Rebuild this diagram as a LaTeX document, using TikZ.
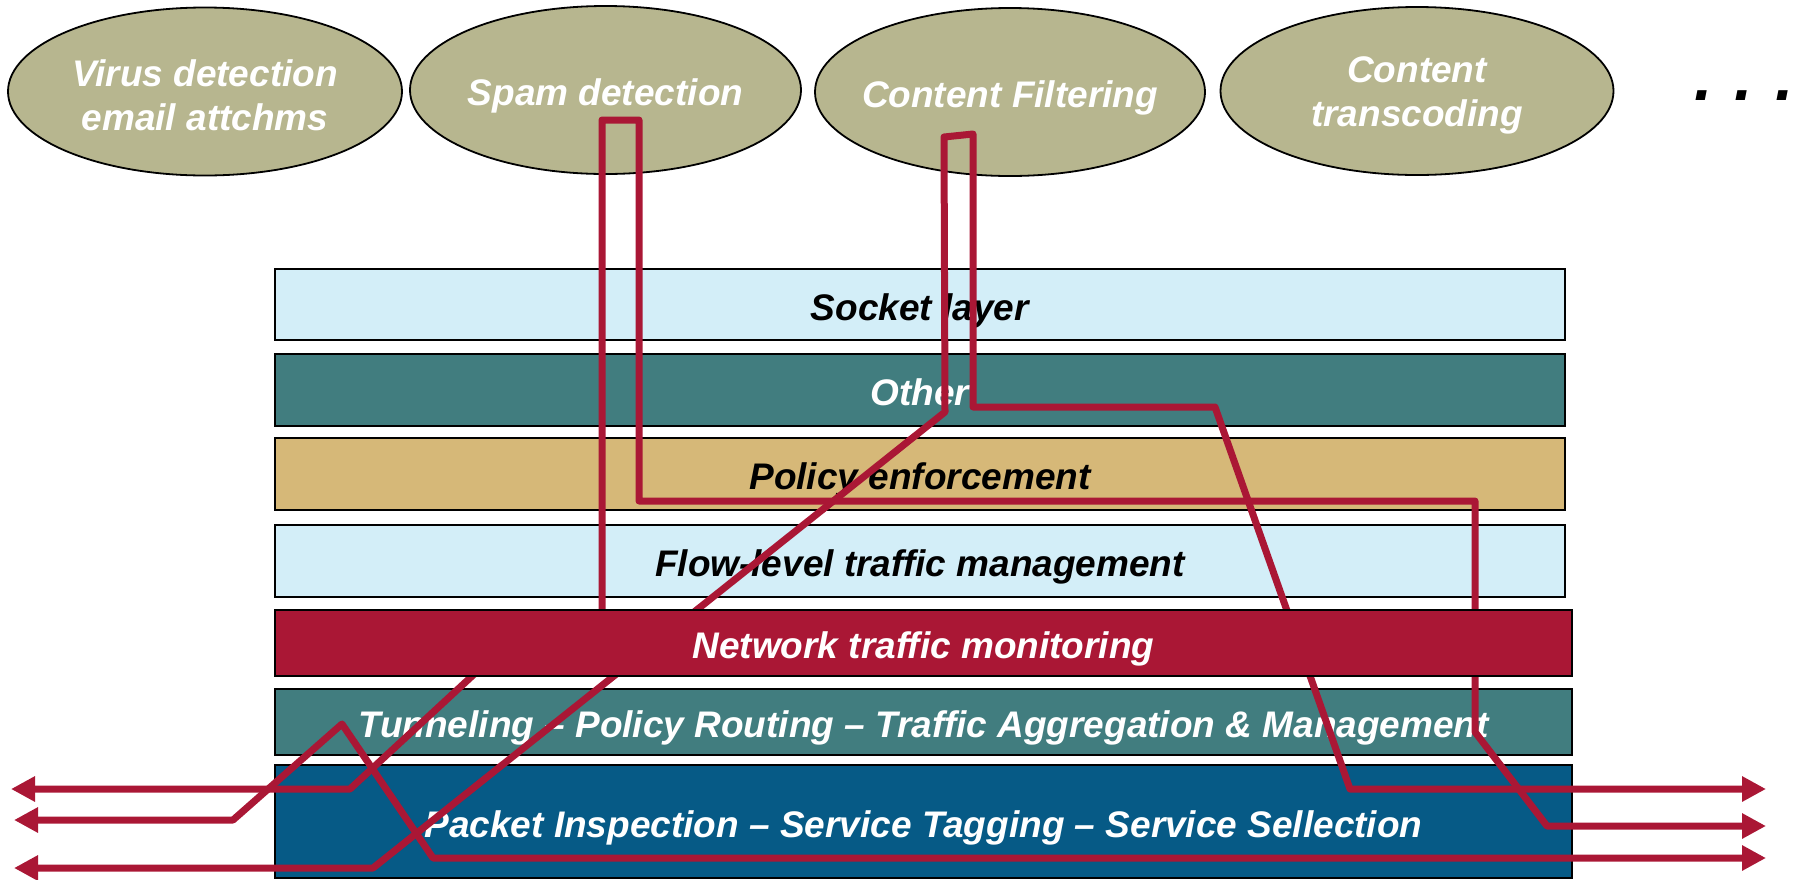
\documentclass[tikz,border=0pt]{standalone}
\usepackage{fontspec}
\setmainfont{Liberation Sans}
\usetikzlibrary{shapes.geometric,arrows.meta}

\definecolor{skyfill}{HTML}{D3EEF8}
\definecolor{tealfill}{HTML}{417D7F}
\definecolor{tanfill}{HTML}{D6B878}
\definecolor{crimson}{HTML}{AA1735}
\definecolor{deepblue}{HTML}{065A86}
\definecolor{olivefill}{HTML}{B7B68F}

% taller first line lowers a two-line label inside its ellipse
\newcommand{\topstrut}{\rule{0pt}{17.5pt}}

\begin{document}
\begin{tikzpicture}[x=0.5pt,y=-0.5pt,
  lbl/.style={font=\fontsize{18.5}{22}\selectfont\bfseries\itshape, align=center},
  oneline/.style={text height=15.5pt, text depth=0pt},
  service/.style={ellipse, draw=black, line width=0.9pt, fill=olivefill,
    text=white, lbl, inner ysep=0pt, inner xsep=-30pt, minimum height=84pt},
  layerbox/.style={rectangle, draw=black, line width=1pt, inner sep=0pt, lbl,
    oneline, minimum width=645pt},
  widebox/.style={layerbox, minimum width=648.5pt, minimum height=33pt},
  flow/.style={draw=crimson, line width=3.5pt, line join=round,
    {Triangle[length=12pt,width=12pt]}-{Triangle[length=12pt,width=12pt]}}
]
\useasboundingbox (0,0) rectangle (1795,879);

% services on top
\node[service, minimum width=197pt] (virus) at (205,91.5) {\topstrut Virus detection\\email attchms};
\node[service, oneline, minimum width=195.5pt] (spam) at (605.5,90) {Spam detection};
\node[service, oneline, minimum width=195pt] (filter) at (1010,92) {Content Filtering};
\node[service, minimum width=196.5pt] (transcode) at (1417,91) {\topstrut Content\\transcoding};
\node[anchor=base, font=\fontsize{33}{36}\selectfont\bfseries\itshape] (more) at (1744,100) {.\,\,.\,\,.};

% protocol stack
\node[layerbox, fill=skyfill, minimum height=35.5pt] (socket) at (920,304.5) {Socket layer};
\node[layerbox, fill=tealfill, text=white, minimum height=36pt] (other) at (920,390) {Other};
\node[layerbox, fill=tanfill, minimum height=36pt] (policy) at (920,474) {Policy enforcement};
\node[layerbox, fill=skyfill, minimum height=36pt] (flowlvl) at (920,561) {Flow-level traffic management};
\node[widebox, fill=tealfill, text=white] (tunnel) at (923.5,722) {Tunneling -- Policy Routing -- Traffic Aggregation \& Management};
\node[widebox, fill=deepblue, text=white, minimum height=56.5pt] (packet) at (923.5,821.5) {Packet Inspection -- Service Tagging -- Service Sellection};

% free ends of the traffic paths
\coordinate (inA) at (11,789);
\coordinate (inB) at (14,820);
\coordinate (inC) at (14,868);
\coordinate (outA) at (1766,789);
\coordinate (outB) at (1766,826);
\coordinate (outC) at (1766,858);

% spam detection path
\draw[flow] (inA) -- (350,789) -- (510,641) -- (602,641) -- (602,120) -- (639,120)
  -- (639,501) -- (1475,501) -- (1475,732) -- (1547,826) -- (outB);
% content filtering path
\draw[flow] (inC) -- (373,868) -- (945,412) -- (944,137) -- (973,134) -- (973,407)
  -- (1215,407) -- (1350,789) -- (outA);
% direct path through the lower layers
\draw[flow] (inB) -- (233,820) -- (342,724) -- (433,858) -- (outC);

% monitoring layer drawn last so the paths pass beneath it
\node[widebox, fill=crimson, text=white] (monitor) at (923.5,643) {Network traffic monitoring};
\end{tikzpicture}
\end{document}
